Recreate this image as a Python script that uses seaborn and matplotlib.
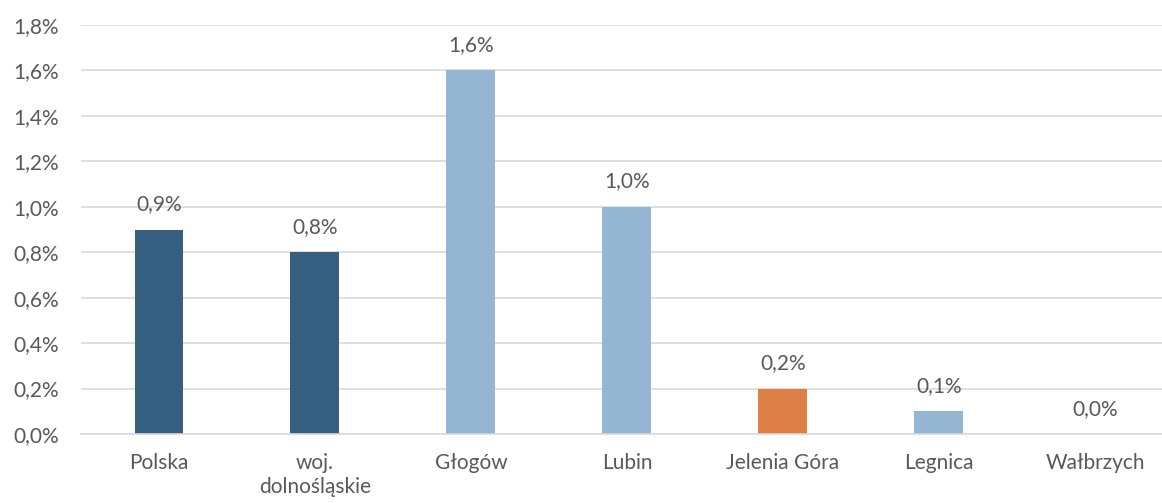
import pandas as pd
import seaborn as sns
import matplotlib.pyplot as plt
from matplotlib.ticker import FuncFormatter

# Data
categories = ['Polska', 'woj.\ndolnośląskie', 'Głogów', 'Lubin', 'Jelenia Góra', 'Legnica', 'Wałbrzych']
values = [0.9, 0.8, 1.6, 1.0, 0.2, 0.1, 0.0]
bar_colors = ['#355E7F', '#355E7F', '#95B6D3', '#95B6D3', '#DD8047', '#95B6D3', '#95B6D3']

df = pd.DataFrame({'kategoria': categories, 'wartosc': values})

sns.set_theme(style='white')
plt.rcParams['font.family'] = ['Lato', 'DejaVu Sans']
text_color = '#595959'
fsize = 15

fig = plt.figure(figsize=(11.62, 5.03), dpi=100)
ax = fig.add_axes([81 / 1162, 1 - 434 / 503, (1162 - 81) / 1162, (434 - 25) / 503])

sns.barplot(data=df, x='kategoria', y='wartosc', hue='kategoria', palette=bar_colors,
            legend=False, width=0.314, ax=ax, saturation=1, linewidth=0)

ax.set_ylim(0, 1.8)
ax.set_xlim(-0.5, 6.43)
ax.set_yticks([i * 0.2 for i in range(10)])
ax.yaxis.set_major_formatter(FuncFormatter(lambda v, _: f'{v:.1f}%'.replace('.', ',')))
ax.grid(axis='y', color='#D9D9D9', linewidth=1.2)
ax.set_axisbelow(True)
for side in ['top', 'right', 'left']:
    ax.spines[side].set_visible(False)
ax.spines['bottom'].set_color('#D9D9D9')
ax.spines['bottom'].set_linewidth(1.2)

ax.set_xlabel('')
ax.set_ylabel('')
ax.tick_params(axis='both', length=0, labelsize=fsize, colors=text_color)
ax.tick_params(axis='y', pad=16)
ax.tick_params(axis='x', pad=14)
for lbl in ax.get_xticklabels():
    lbl.set_linespacing(1.2)

# Value labels above bars
for i, v in enumerate(values):
    ax.annotate(f'{v:.1f}%'.replace('.', ','), (i, v), xytext=(0, 11), textcoords='offset points',
                ha='center', va='bottom', fontsize=fsize, color=text_color)

fig.savefig('out.png', dpi=100)
